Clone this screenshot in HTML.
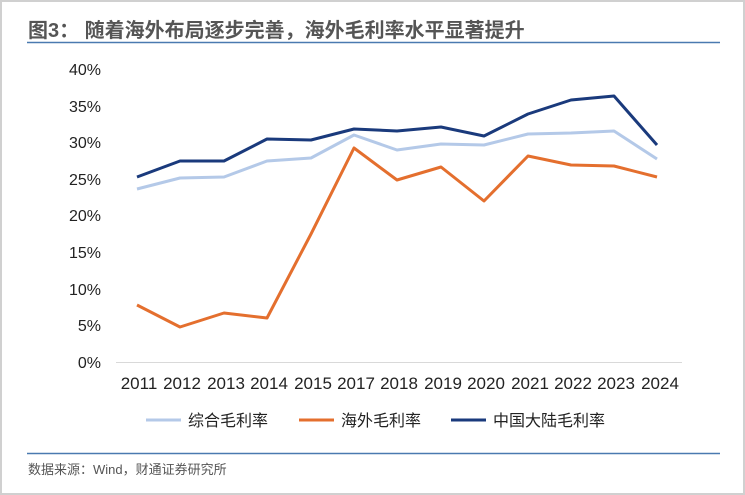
<!DOCTYPE html>
<html><head><meta charset="utf-8"><style>
body{margin:0;background:#fff;}
svg{display:block;font-family:"Liberation Sans","Noto Sans CJK SC",sans-serif;}
</style></head><body>
<svg width="745" height="495" xmlns="http://www.w3.org/2000/svg">
<rect x="1" y="1" width="743" height="493" fill="#fff" stroke="#d0d0d0" stroke-width="2"/>
<text x="28" y="37" font-size="20" fill="#555" font-weight="bold">图3：  随着海外布局逐步完善，海外毛利率水平显著提升</text>
<line x1="27" y1="42.5" x2="720" y2="42.5" stroke="#4a7ab0" stroke-width="1.5"/>
<g font-size="16" fill="#222" text-anchor="end">
<text x="101" y="75">40%</text><text x="101" y="112">35%</text><text x="101" y="148">30%</text>
<text x="101" y="185">25%</text><text x="101" y="221">20%</text><text x="101" y="258">15%</text>
<text x="101" y="295">10%</text><text x="101" y="331">5%</text><text x="101" y="368">0%</text>
</g>
<line x1="116" y1="362.5" x2="682" y2="362.5" stroke="#d9d9d9" stroke-width="1"/>
<g font-size="17" fill="#222" text-anchor="middle">
<text x="139" y="389">2011</text><text x="182" y="389">2012</text><text x="226" y="389">2013</text>
<text x="269" y="389">2014</text><text x="313" y="389">2015</text><text x="356" y="389">2017</text>
<text x="399" y="389">2018</text><text x="443" y="389">2019</text><text x="486" y="389">2020</text>
<text x="530" y="389">2021</text><text x="573" y="389">2022</text><text x="616" y="389">2023</text>
<text x="660" y="389">2024</text>
</g>
<g fill="none" stroke-width="3" stroke-linejoin="round">
<polyline stroke="#b4c9e8" points="137,189 180,178 224,177 267,161 311,158 354,135 397,150 441,144 484,145 528,134 571,133 614,131 657,159"/>
<polyline stroke="#e46f2e" points="137,305 180,327 224,313 267,318 311,234 354,148 397,180 441,167 484,201 528,156 571,165 614,166 657,177"/>
<polyline stroke="#1a3a7c" points="137,177 180,161 224,161 267,139 311,140 354,129 397,131 441,127 484,136 528,114 571,100 614,96 657,145"/>
</g>
<g font-size="16" fill="#222">
<line x1="146" y1="420" x2="181" y2="420" stroke="#b4c9e8" stroke-width="3"/><text x="188" y="426">综合毛利率</text>
<line x1="299" y1="420" x2="334" y2="420" stroke="#e46f2e" stroke-width="3"/><text x="341" y="426">海外毛利率</text>
<line x1="451" y1="420" x2="486" y2="420" stroke="#1a3a7c" stroke-width="3"/><text x="493" y="426">中国大陆毛利率</text>
</g>
<line x1="27" y1="453.5" x2="720" y2="453.5" stroke="#4a7ab0" stroke-width="1.5"/>
<text x="28" y="474" font-size="13" fill="#555">数据来源：Wind，财通证券研究所</text>
</svg>
</body></html>
